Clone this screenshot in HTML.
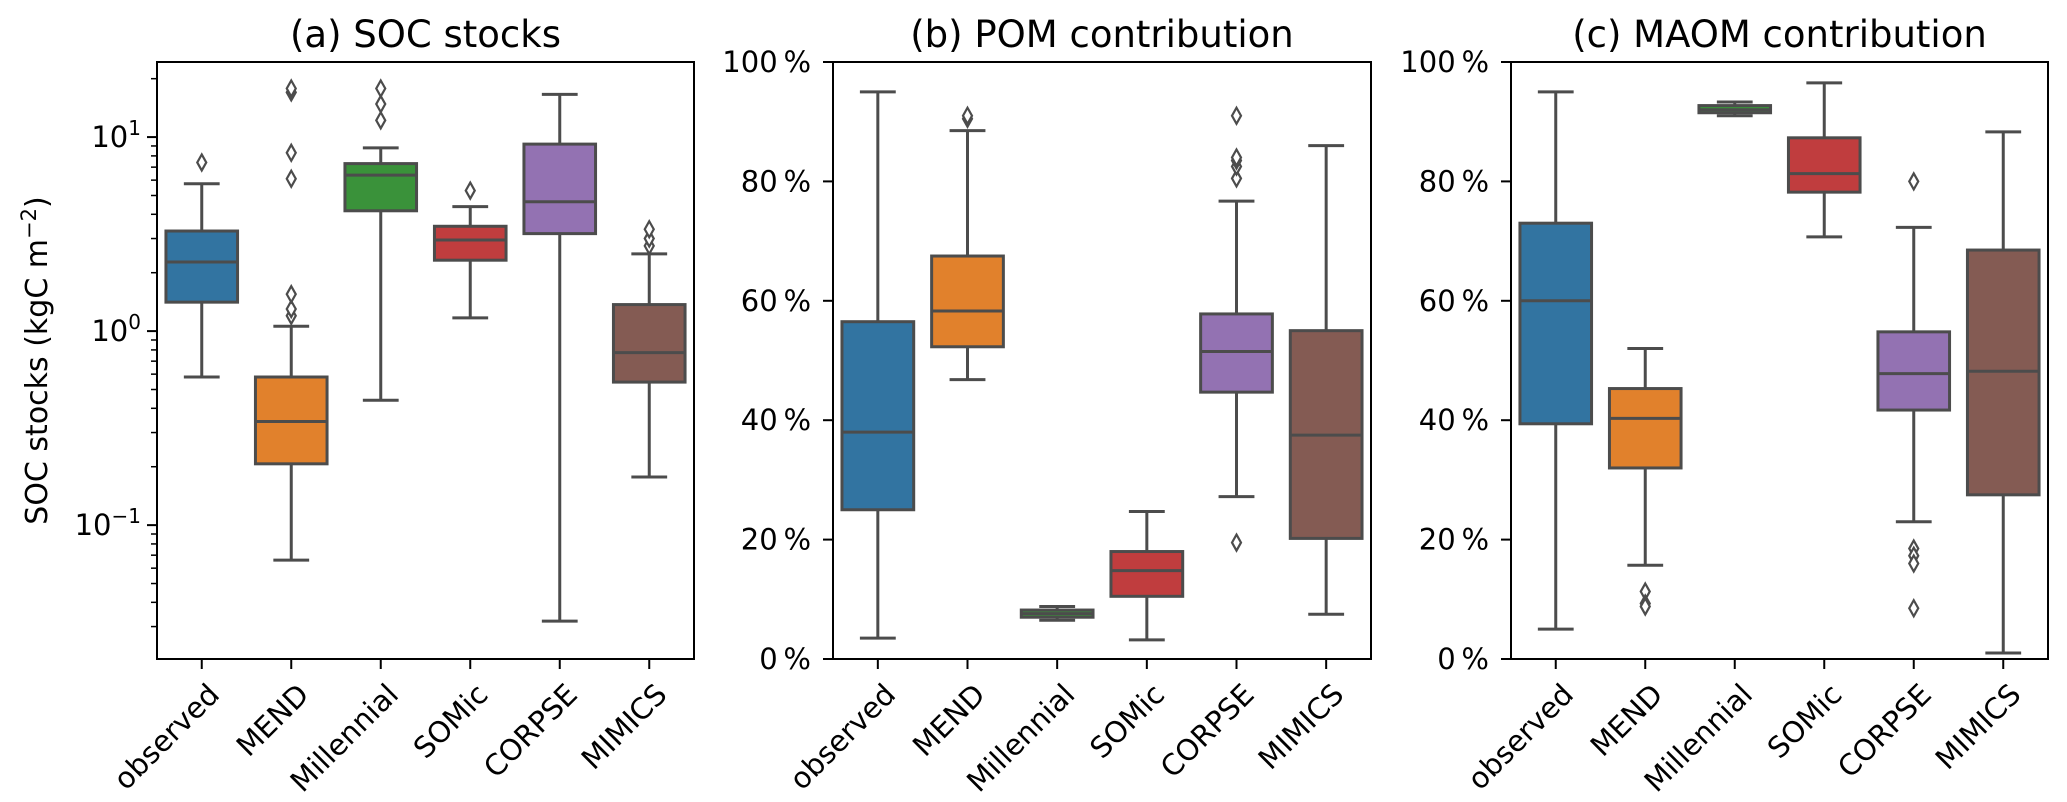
<!DOCTYPE html>
<html><head><meta charset="utf-8">
<style>
html,body{margin:0;padding:0;background:#fff;}
svg{display:block;font-family:"DejaVu Sans","Liberation Sans",sans-serif;}
</style></head>
<body>
<svg id="chart" width="2067" height="802" viewBox="0 0 2067 802" xmlns="http://www.w3.org/2000/svg"></svg>
<script>
const categories = ["observed","MEND","Millennial","SOMic","CORPSE","MIMICS"];
const colors = ["#3274a1","#e1812c","#3a923a","#c03d3e","#9372b2","#845b53"];
// [low whisker, Q1, median, Q3, high whisker]
const socStats = [[0.58,1.41,2.27,3.28,5.75],[0.066,0.207,0.342,0.58,1.06],[0.44,4.17,6.37,7.3,8.8],[1.17,2.32,2.95,3.47,4.38],[0.032,3.18,4.64,9.2,16.6],[0.177,0.546,0.775,1.37,2.5]];
const socOutliers = [[7.4],[1.2,1.3,1.55,6.1,8.3,17,17.8],[12.2,14.8,17.8],[5.3],[],[2.75,3.0,3.35]];
const pomStats = [[3.5,25,38,56.5,95],[46.8,52.3,58.3,67.5,88.5],[6.5,7.0,7.6,8.2,8.8],[3.2,10.5,14.8,18,24.7],[27.2,44.7,51.5,57.8,76.7],[7.5,20.2,37.5,55,86]];
const pomOutliers = [[],[90.5,91],[],[],[19.5,80.5,82.5,83.5,84,91],[]];
const maomStats = [[5,39.4,60,73,95],[15.7,32,40.3,45.3,52],[91,91.5,92,92.7,93.3],[70.7,78.2,81.3,87.3,96.5],[23,41.7,47.8,54.8,72.3],[1,27.5,48.2,68.5,88.3]];
const maomOutliers = [[],[11.3,9.3,8.8],[],[],[80,18.5,17.3,16,8.5],[]];
const pctTicks = [0,20,40,60,80,100];
const logTicks = [-1,0,1];

const NS="http://www.w3.org/2000/svg";
const svg=document.getElementById('chart');
function mk(tag,attrs,parent){const e=document.createElementNS(NS,tag);for(const k in attrs)e.setAttribute(k,attrs[k]);(parent||svg).appendChild(e);return e;}
const TOP=62,BOT=659,LINE="#4c4c4c";

function panel(key,left,right,title,stats,outs,isLog){
  const g=mk('g',{});
  
  
  let y;
  if(isLog){const lo=-1.69,hi=1.387;y=v=>BOT-(Math.log10(v)-lo)/(hi-lo)*(BOT-TOP);}
  else{y=v=>BOT-v/100*(BOT-TOP);}
  const step=(right-left)/categories.length;
  const bw=step*0.8;
  const xc=i=>left+step*(i+0.5);
  stats.forEach((s,i)=>{
    const bg=mk('g',{},g);
    
    
    const cx=xc(i);
    mk('line',{x1:cx,x2:cx,y1:y(s[0]),y2:y(s[1]),stroke:LINE,'stroke-width':3},bg);
    mk('line',{x1:cx,x2:cx,y1:y(s[3]),y2:y(s[4]),stroke:LINE,'stroke-width':3},bg);
    mk('line',{x1:cx-bw/4,x2:cx+bw/4,y1:y(s[0]),y2:y(s[0]),stroke:LINE,'stroke-width':3},bg);
    mk('line',{x1:cx-bw/4,x2:cx+bw/4,y1:y(s[4]),y2:y(s[4]),stroke:LINE,'stroke-width':3},bg);
    mk('rect',{x:cx-bw/2,y:y(s[3]),width:bw,height:Math.max(1,y(s[1])-y(s[3])),fill:colors[i],stroke:LINE,'stroke-width':3},bg);
    mk('line',{x1:cx-bw/2,x2:cx+bw/2,y1:y(s[2]),y2:y(s[2]),stroke:LINE,'stroke-width':3},bg);
    outs[i].forEach(o=>{
      const oy=y(o);
      const d=mk('path',{d:`M${cx} ${oy-8} L${cx+4.5} ${oy} L${cx} ${oy+8} L${cx-4.5} ${oy} Z`,fill:'#fff',stroke:LINE,'stroke-width':2.2},bg);
      
      
    });
  });
  const fr=mk('rect',{x:left,y:TOP,width:right-left,height:BOT-TOP,fill:'none',stroke:'#000','stroke-width':2},g);
  
  
  categories.forEach((c,i)=>{
    const cx=xc(i);
    mk('line',{x1:cx,x2:cx,y1:BOT,y2:BOT+10,stroke:'#000','stroke-width':2},g);
    const t=mk('text',{x:cx+4,y:BOT+22,'font-size':29,'text-anchor':'end',transform:`rotate(-45 ${cx+4} ${BOT+22})`,'dominant-baseline':'hanging'},g);
    t.textContent=c;
    
    
  });
  if(isLog){
    logTicks.forEach(p=>{
      const ty=y(Math.pow(10,p));
      mk('line',{x1:left-10,x2:left,y1:ty,y2:ty,stroke:'#000','stroke-width':2},g);
      const t=mk('text',{x:left-16,y:ty+10,'font-size':29,'text-anchor':'end'},g);
      
      
      const a=mk('tspan',{},t);a.textContent='10';
      const b=mk('tspan',{dy:-12,'font-size':20},t);b.textContent=(p<0?'\u2212':'')+Math.abs(p);
    });
    for(let p=-2;p<=1;p++){for(let m=2;m<=9;m++){const v=m*Math.pow(10,p);const ty=y(v);if(ty<TOP||ty>BOT)continue;
      mk('line',{x1:left-6,x2:left,y1:ty,y2:ty,stroke:'#000','stroke-width':1.5},g);}}
  }else{
    pctTicks.forEach(v=>{
      const ty=y(v);
      mk('line',{x1:left-10,x2:left,y1:ty,y2:ty,stroke:'#000','stroke-width':2},g);
      const t=mk('text',{x:left-22,y:ty+10,'font-size':29,'text-anchor':'end'},g);
      t.textContent=v+'\u2009%';
      
      
    });
  }
  const tt=mk('text',{x:(left+right)/2,y:47,'font-size':37,'text-anchor':'middle'},g);
  tt.textContent=title;
  
  
}
panel('soc',157,694,'(a) SOC stocks',socStats,socOutliers,true);
panel('pom',833,1371,'(b) POM contribution',pomStats,pomOutliers,false);
panel('maom',1511,2048,'(c) MAOM contribution',maomStats,maomOutliers,false);
const yl=mk('text',{x:0,y:0,'font-size':30,'text-anchor':'middle',transform:`translate(47 ${(TOP+BOT)/2}) rotate(-90)`});


const s1=mk('tspan',{},yl);s1.textContent='SOC stocks (kgC m';
const s2=mk('tspan',{dy:-11,'font-size':21},yl);s2.textContent='\u22122';
const s3=mk('tspan',{dy:11},yl);s3.textContent=')';
</script>
</body></html>
